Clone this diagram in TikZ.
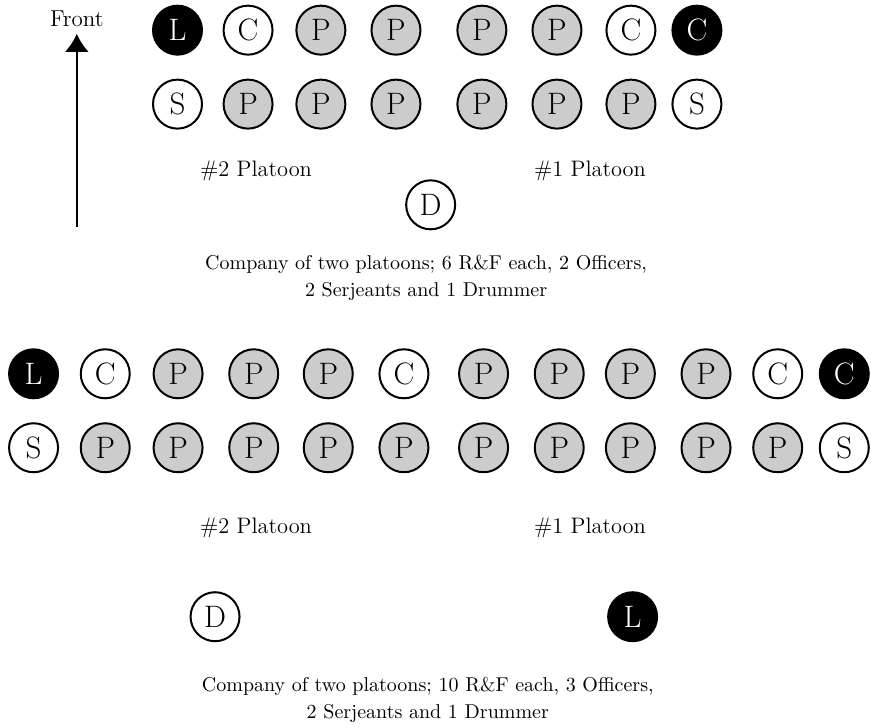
\documentclass[tikz,border=0pt]{standalone}
\usepackage{fontspec}
\usepackage{xcolor}
\usepackage{tikz}
\usetikzlibrary{arrows.meta}
\usetikzlibrary{shapes}
\tikzset{>=latex}
\tikzstyle{rank} = [circle, draw=black, line width=1pt, minimum size=24.5pt, inner sep=0pt, font=\fontsize{15.5}{16}\selectfont]
\tikzstyle{nco} = [rank, fill=white]
\tikzstyle{pvt} = [rank, fill=black!20]
\tikzstyle{officer} = [rank, fill=black, text=white]
\tikzstyle{platoon} = [font=\fontsize{11.2}{13}\selectfont]
\tikzstyle{caption} = [align=center, font=\fontsize{10}{13.5}\selectfont]

\begin{document}
\begin{tikzpicture}
\useasboundingbox (0, 0) rectangle (15.31, -12.78);
\node [font=\fontsize{11.5}{13}\selectfont] (front) at (1.35, -0.33) {Front};
\coordinate (base) at (1.35, -3.99);
\draw [-{Latex[length=9pt, width=12pt]}, draw = black, line width=1.2pt] (base) -- (front);
\node [officer] (aL) at (3.12, -0.53) {L};
\node [nco] (aC2) at (4.36, -0.53) {C};
\node [pvt] (aP1) at (5.64, -0.53) {P};
\node [pvt] (aP2) at (6.96, -0.53) {P};
\node [pvt] (aP3) at (8.47, -0.53) {P};
\node [pvt] (aP4) at (9.79, -0.53) {P};
\node [nco] (aC1) at (11.09, -0.53) {C};
\node [officer] (aC) at (12.25, -0.53) {C};
\node [nco] (aS2) at (3.12, -1.83) {S};
\node [pvt] (aP5) at (4.36, -1.83) {P};
\node [pvt] (aP6) at (5.64, -1.83) {P};
\node [pvt] (aP7) at (6.96, -1.83) {P};
\node [pvt] (aP8) at (8.47, -1.83) {P};
\node [pvt] (aP9) at (9.79, -1.83) {P};
\node [pvt] (aP10) at (11.09, -1.83) {P};
\node [nco] (aS1) at (12.25, -1.83) {S};
\node [platoon] (aN2) at (4.50, -3.00) {\#2 Platoon};
\node [platoon] (aN1) at (10.37, -3.00) {\#1 Platoon};
\node [nco] (aD) at (7.57, -3.60) {D};
\node [caption] (aText) at (7.49, -4.89) {Company of two platoons; 6 R\&F each, 2 Officers,\\2 Serjeants and 1 Drummer};
\node [officer] (bL) at (0.59, -6.57) {L};
\node [nco] (bC2) at (1.85, -6.57) {C};
\node [pvt] (bP1) at (3.13, -6.57) {P};
\node [pvt] (bP2) at (4.46, -6.57) {P};
\node [pvt] (bP3) at (5.77, -6.57) {P};
\node [nco] (bC3) at (7.10, -6.57) {C};
\node [pvt] (bP4) at (8.50, -6.57) {P};
\node [pvt] (bP5) at (9.83, -6.57) {P};
\node [pvt] (bP6) at (11.08, -6.57) {P};
\node [pvt] (bP7) at (12.41, -6.57) {P};
\node [nco] (bC1) at (13.67, -6.57) {C};
\node [officer] (bC) at (14.84, -6.57) {C};
\node [nco] (bS2) at (0.59, -7.87) {S};
\node [pvt] (bP8) at (1.85, -7.87) {P};
\node [pvt] (bP9) at (3.13, -7.87) {P};
\node [pvt] (bP10) at (4.46, -7.87) {P};
\node [pvt] (bP11) at (5.77, -7.87) {P};
\node [pvt] (bP12) at (7.10, -7.87) {P};
\node [pvt] (bP13) at (8.50, -7.87) {P};
\node [pvt] (bP14) at (9.83, -7.87) {P};
\node [pvt] (bP15) at (11.08, -7.87) {P};
\node [pvt] (bP16) at (12.41, -7.87) {P};
\node [pvt] (bP17) at (13.67, -7.87) {P};
\node [nco] (bS1) at (14.84, -7.87) {S};
\node [platoon] (bN2) at (4.50, -9.28) {\#2 Platoon};
\node [platoon] (bN1) at (10.37, -9.28) {\#1 Platoon};
\node [nco] (bD) at (3.78, -10.84) {D};
\node [officer] (bL2) at (11.12, -10.84) {L};
\node [caption] (bText) at (7.52, -12.30) {Company of two platoons; 10 R\&F each, 3 Officers,\\2 Serjeants and 1 Drummer};
\end{tikzpicture}
\end{document}
